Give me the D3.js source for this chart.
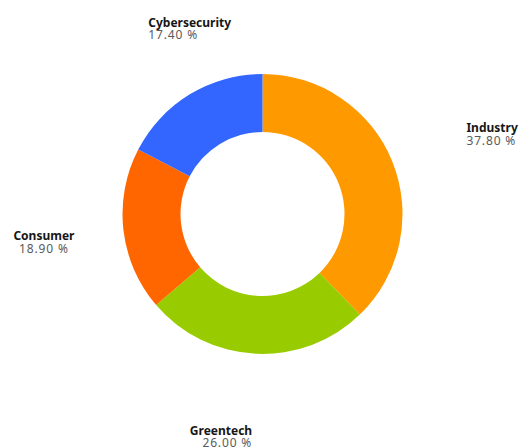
<!DOCTYPE html>
<html>
<head>
<meta charset="utf-8">
<script src="https://cdn.jsdelivr.net/npm/d3@7"></script>
<style>
  html, body { margin: 0; padding: 0; background: #ffffff; }
  svg { display: block; }
  .name { font-family: "Noto Sans", sans-serif; font-weight: 700; font-size: 12px; fill: #161616; }
  .value { font-family: "Noto Sans", sans-serif; font-weight: 400; font-size: 12px; fill: #5a5a5a; letter-spacing: 0.85px; }
</style>
</head>
<body>
<svg id="chart" width="521" height="448"></svg>
<script>
// Sector shares, in percent
const categories = ["Industry", "Greentech", "Consumer", "Cybersecurity"];
const shares = [37.8, 26.0, 18.9, 17.4];
const colors = ["#ff9900", "#99cc00", "#ff6600", "#3366ff"];

const width = 521, height = 448;
const cx = 262.5, cy = 214;
const outerR = 140, innerR = 82, labelR = 220;

// Horizontal alignment of each label around its anchor point
const labelAnchor = { Industry: "start", Greentech: "end", Consumer: "middle", Cybersecurity: "start" };

const svg = d3.select("#chart");
const g = svg.append("g").attr("transform", `translate(${cx},${cy})`);

const rows = categories.map((c, i) => ({ name: c, value: shares[i], color: colors[i] }));

const pie = d3.pie().sort(null).value(d => d.value);
const arcs = pie(rows);

const arc = d3.arc().innerRadius(innerR).outerRadius(outerR);
const labelArc = d3.arc().innerRadius(labelR).outerRadius(labelR);

g.selectAll("path.slice")
  .data(arcs)
  .join("path")
  .attr("class", "slice")
  .attr("d", arc)
  .attr("fill", d => d.data.color);

const labels = g.selectAll("g.label")
  .data(arcs)
  .join("g")
  .attr("class", "label")
  .attr("transform", d => {
    const [x, y] = labelArc.centroid(d);
    return `translate(${x},${y + 1})`;
  });

labels.append("text")
  .attr("class", "name")
  .attr("text-anchor", d => labelAnchor[d.data.name])
  .text(d => d.data.name);

labels.append("text")
  .attr("class", "value")
  .attr("y", 12.5)
  .attr("text-anchor", d => labelAnchor[d.data.name])
  .text(d => d.data.value.toFixed(2) + " %");
</script>
</body>
</html>
